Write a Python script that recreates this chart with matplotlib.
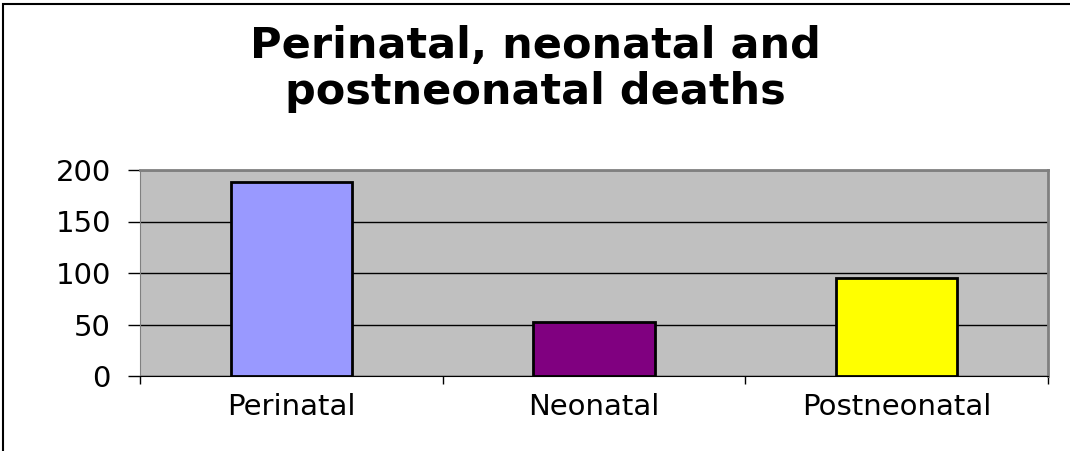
import matplotlib.pyplot as plt
from matplotlib.patches import Rectangle

categories = ['Perinatal', 'Neonatal', 'Postneonatal']
deaths = [188, 52, 95]
bar_colors = ['#9999FF', '#800080', '#FFFF00']
yticks = [0, 50, 100, 150, 200]

plt.rcParams['font.family'] = ['DejaVu Sans']

fig = plt.figure(figsize=(10.7, 4.51), dpi=100)
# outer chart border
fig.patches.append(Rectangle((3 / 1070, -0.01), 1.02, 1 - 4 / 451 + 0.01,
                             transform=fig.transFigure, fill=False,
                             edgecolor='black', linewidth=1.5))

ax = fig.add_axes([140 / 1070, 1 - 376 / 451, 908 / 1070, 206 / 451])
ax.set_facecolor('#C0C0C0')
x = range(len(categories))
ax.bar(x, deaths, width=0.4, color=bar_colors, edgecolor='black', linewidth=2, zorder=3)
ax.set_xlim(-0.5, 2.5)
ax.set_ylim(0, 200)
ax.set_yticks(yticks)
ax.yaxis.grid(True, color='black', linewidth=1, zorder=1)
ax.set_xticks([-0.5, 0.5, 1.5, 2.5])
ax.set_xticklabels([])
ax.set_xticks(list(x), minor=True)
ax.set_xticklabels(categories, minor=True)
ax.tick_params(axis='x', which='major', length=6, direction='out', width=1)
ax.tick_params(axis='x', which='minor', length=0, pad=12, labelsize=21)
ax.tick_params(axis='y', length=9, width=1, pad=12, labelsize=21)
for side in ['top', 'right']:
    ax.spines[side].set_color('#808080')
    ax.spines[side].set_linewidth(2)
ax.spines['left'].set_color('#808080')
ax.spines['bottom'].set_color('black')

fig.text(0.5, 1 - 69 / 451, 'Perinatal, neonatal and\npostneonatal deaths',
         ha='center', va='center', fontsize=31, fontweight='bold', linespacing=1.1)

fig.savefig('out.png')
